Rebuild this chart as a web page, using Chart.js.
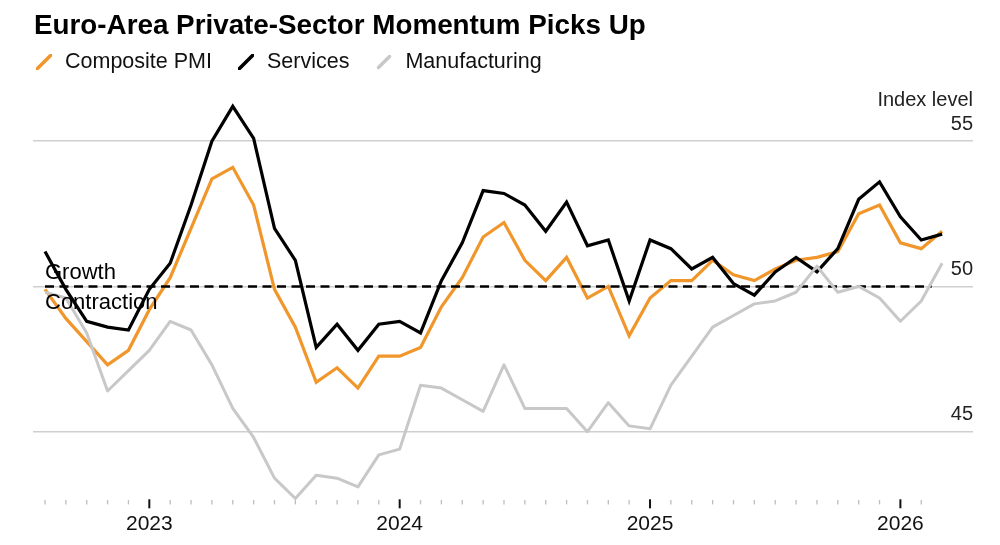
<!DOCTYPE html>
<html>
<head>
<meta charset="utf-8">
<script src="https://cdn.jsdelivr.net/npm/chart.js@4.4.1/dist/chart.umd.min.js"></script>
<style>
  html, body { margin: 0; padding: 0; background: #fff; }
  #wrap { position: relative; width: 1000px; height: 545px; overflow: hidden; font-family: "Liberation Sans", Arial, sans-serif; }
  #title { position: absolute; left: 34px; top: 11px; font-size: 27.8px; line-height: 27.8px; font-weight: bold; color: #000; letter-spacing: 0px; white-space: nowrap; }
  #legend { position: absolute; left: 36px; top: 51px; font-size: 21.5px; line-height: 21.5px; color: #111; white-space: nowrap; display: flex; align-items: center; }
  .item { display: flex; align-items: center; }
  .item svg { margin-right: 13px; }
  canvas { position: absolute; left: 0; top: 0; }
</style>
</head>
<body>
<div id="wrap">
  <canvas id="c" width="1000" height="545"></canvas>
  <div id="title">Euro-Area Private-Sector Momentum Picks Up</div>
  <div id="legend"></div>
</div>
<script>
// Month of each observation (Jul 2022 .. Feb 2026)
const months = ['Jul 2022','Aug 2022','Sep 2022','Oct 2022','Nov 2022','Dec 2022',
  'Jan 2023','Feb 2023','Mar 2023','Apr 2023','May 2023','Jun 2023','Jul 2023','Aug 2023','Sep 2023','Oct 2023','Nov 2023','Dec 2023',
  'Jan 2024','Feb 2024','Mar 2024','Apr 2024','May 2024','Jun 2024','Jul 2024','Aug 2024','Sep 2024','Oct 2024','Nov 2024','Dec 2024',
  'Jan 2025','Feb 2025','Mar 2025','Apr 2025','May 2025','Jun 2025','Jul 2025','Aug 2025','Sep 2025','Oct 2025','Nov 2025','Dec 2025',
  'Jan 2026','Feb 2026'];

const composite = [49.9,48.9,48.1,47.3,47.8,49.2,50.3,52.0,53.7,54.1,52.8,49.9,48.6,46.7,47.2,46.5,47.6,47.6,
  47.9,49.3,50.3,51.7,52.2,50.9,50.2,51.0,49.6,50.0,48.3,49.6,50.2,50.2,50.9,50.4,50.2,50.6,50.9,51.0,51.2,52.5,52.8,51.5,51.3,51.9];
const services = [51.2,49.9,48.8,48.6,48.5,49.9,50.8,52.8,55.0,56.2,55.1,52.0,50.9,47.9,48.7,47.8,48.7,48.8,
  48.4,50.2,51.5,53.3,53.2,52.8,51.9,52.9,51.4,51.6,49.5,51.6,51.3,50.6,51.0,50.1,49.7,50.5,51.0,50.5,51.3,53.0,53.6,52.4,51.6,51.8];
const manufacturing = [49.8,49.6,48.4,46.4,47.1,47.8,48.8,48.5,47.3,45.8,44.8,43.4,42.7,43.5,43.4,43.1,44.2,44.4,
  46.6,46.5,46.1,45.7,47.3,45.8,45.8,45.8,45.0,46.0,45.2,45.1,46.6,47.6,48.6,49.0,49.4,49.5,49.8,50.7,49.8,50.0,49.6,48.8,49.5,50.8];

// Axis tick labels
const yTickValues = [45, 50, 55];
const yearLabels = ['2023', '2024', '2025', '2026'];
const tickMonths = ['Aug','Sep','Oct','Nov','Dec','Jan','Feb','Mar','Apr','May','Jun','Jul',
  'Aug','Sep','Oct','Nov','Dec','Jan','Feb','Mar','Apr','May','Jun','Jul',
  'Aug','Sep','Oct','Nov','Dec','Jan','Feb','Mar','Apr','May','Jun','Jul',
  'Aug','Sep','Oct','Nov','Dec','Jan','Feb'];
const threshold = 50;
const seriesNames = ['Composite PMI', 'Services', 'Manufacturing'];

const COL = { composite: '#f0962b', services: '#000000', manufacturing: '#c8c8c8' };

// Legend (HTML)
const legendEl = document.getElementById('legend');
const legendCols = [COL.composite, COL.services, COL.manufacturing];
const legendGaps = [0, 26, 27];
seriesNames.forEach((n, i) => {
  const it = document.createElement('span');
  it.className = 'item';
  it.style.marginLeft = legendGaps[i] + 'px';
  const len = i === 2 ? 11 : 15;
  it.innerHTML = '<svg width="16" height="16" viewBox="0 0 16 16"><line x1="' + (8 - len/2) + '" y1="' + (8 + len/2) + '" x2="' + (8 + len/2) + '" y2="' + (8 - len/2) + '" stroke="' + legendCols[i] + '" stroke-width="3.5" stroke-linecap="round"/></svg><span>' + n + '</span>';
  legendEl.appendChild(it);
});

const pts = arr => arr.map((v, i) => ({ x: i, y: v }));

const decor = {
  id: 'decor',
  afterDatasetsDraw(chart) {
    const { ctx, chartArea, scales: { x, y } } = chart;
    ctx.save();
    ctx.fillStyle = '#000';
    ctx.font = '22px "Liberation Sans", Arial, sans-serif';
    ctx.textAlign = 'left';
    ctx.textBaseline = 'alphabetic';
    const x0 = x.getPixelForValue(0);
    const y50 = y.getPixelForValue(threshold);
    ctx.fillText('Growth', x0, y50 - 7.4);
    ctx.fillText('Contraction', x0, y50 + 22.6);
    // Index level label
    ctx.font = '20px "Liberation Sans", Arial, sans-serif';
    ctx.fillStyle = '#222';
    ctx.textAlign = 'right';
    ctx.textBaseline = 'middle';
    ctx.fillText('Index level', chartArea.right, y.getPixelForValue(55) - 41);
    // month tick marks
    for (let i = 0; i < tickMonths.length; i++) {
      const px = x.getPixelForValue(i);
      const major = tickMonths[i] === 'Jan';
      ctx.beginPath();
      ctx.strokeStyle = major ? '#111' : '#bdbdbd';
      ctx.lineWidth = major ? 2 : 1.3;
      const top = chartArea.bottom + (major ? 3.7 : 4.5);
      const bot = chartArea.bottom + (major ? 12.7 : 8.8);
      ctx.moveTo(px, top);
      ctx.lineTo(px, bot);
      ctx.stroke();
    }
    ctx.restore();
  }
};

new Chart(document.getElementById('c'), {
  type: 'line',
  data: {
    datasets: [
      { label: seriesNames[2], data: pts(manufacturing), borderColor: COL.manufacturing, borderWidth: 3, pointRadius: 0, tension: 0, clip: false, borderJoinStyle: 'round' },
      { label: 'threshold', data: [{ x: 0, y: threshold }, { x: 42.5, y: threshold }], borderColor: '#000', borderWidth: 2.6, borderDash: [9, 5.5], pointRadius: 0, clip: false },
      { label: seriesNames[1], data: pts(services), borderColor: COL.services, borderWidth: 3.2, pointRadius: 0, tension: 0, clip: false, borderJoinStyle: 'miter' },
      { label: seriesNames[0], data: pts(composite), borderColor: COL.composite, borderWidth: 3.2, pointRadius: 0, tension: 0, clip: false, borderJoinStyle: 'miter' }
    ]
  },
  options: {
    responsive: false,
    animation: false,
    devicePixelRatio: 1,
    layout: { padding: { left: 33, right: 27, top: 70, bottom: 9.4 } },
    plugins: { legend: { display: false }, title: { display: false }, tooltip: { enabled: false } },
    scales: {
      x: {
        type: 'linear',
        min: -0.575,
        max: 44.48,
        grid: { display: false, drawTicks: false },
        border: { display: false },
        afterBuildTicks: s => { s.ticks = tickMonths.map((m, i) => ({ value: i })); },
        afterFit: s => { s.height = 40; },
        ticks: {
          autoSkip: false,
          maxRotation: 0,
          padding: 16,
          color: '#111',
          font: { family: '"Liberation Sans", Arial, sans-serif', size: 21 },
          callback: (v) => {
            const i = Math.round(v);
            if (tickMonths[i] !== 'Jan') return '';
            const n = tickMonths.slice(0, i + 1).filter(m => m === 'Jan').length;
            return yearLabels[n - 1];
          }
        }
      },
      y: {
        position: 'right',
        min: 42.8,
        max: 57.45,
        grid: { color: '#cfcfcf', lineWidth: 1.6, drawTicks: false },
        border: { display: false },
        afterBuildTicks: s => { s.ticks = yTickValues.map(v => ({ value: v })); },
        ticks: {
          mirror: true,
          padding: 0,
          labelOffset: -17,
          color: '#222',
          font: { family: '"Liberation Sans", Arial, sans-serif', size: 20 }
        }
      }
    }
  },
  plugins: [decor]
});
</script>
</body>
</html>
